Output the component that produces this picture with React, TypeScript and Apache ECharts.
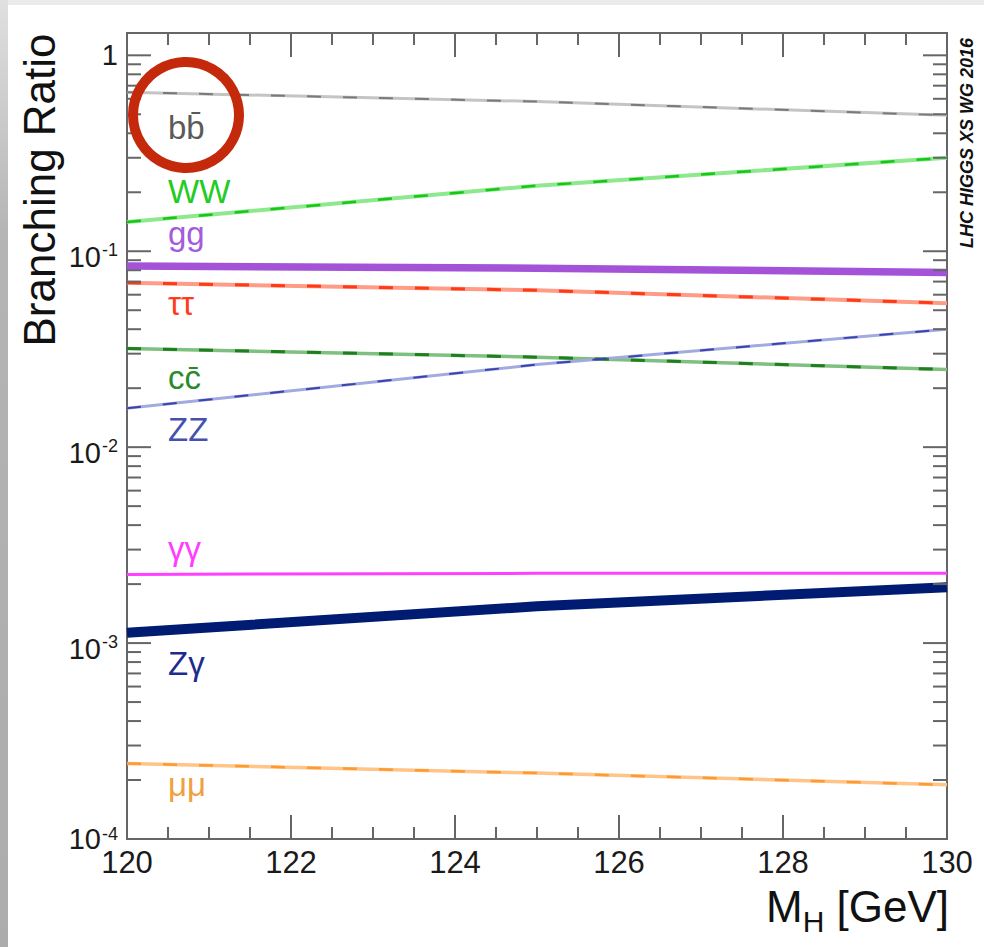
import React, { useEffect, useRef } from "react";
import * as echarts from "echarts";

// Higgs boson branching ratios versus mass (GeV), log scale
const massGeV = [120, 125, 130];
const brBB = [0.648, 0.581, 0.494];
const brWW = [0.141, 0.216, 0.3];
const brGG = [0.084, 0.082, 0.0778];
const brTauTau = [0.069, 0.0632, 0.0543];
const brCC = [0.0319, 0.0288, 0.0249];
const brZZ = [0.0158, 0.0264, 0.04];
const brGamGam = [0.00224, 0.00227, 0.00227];
const brZGam = [0.00113, 0.00154, 0.00193];
const brMuMu = [0.000243, 0.000217, 0.000189];

const channelNames = ["bb\u0304", "WW", "gg", "\u03c4\u03c4", "cc\u0304", "ZZ", "\u03b3\u03b3", "Z\u03b3", "\u03bc\u03bc"];
const channelValues = [brBB, brWW, brGG, brTauTau, brCC, brZZ, brGamGam, brZGam, brMuMu];

const xMin = 120;
const xMax = 130;
const yMin = 1e-4;
const yMax = 1.3;
const yDecades = [-4, -3, -2, -1, 0];
const yMinorMultipliers = [2, 3, 4, 5, 6, 7, 8, 9];

const xTitle = ["M", "H", " [GeV]"];
const yTitle = "Branching Ratio";
const stamp = "LHC HIGGS XS WG 2016";

const FONT = '"Liberation Sans", Arial, Helvetica, sans-serif';

// per-channel drawing style: band colour/width, central dash colour/width, label colour, label centre y
const channelStyles = [
  { band: "#c4c4c4", width: 3, dash: "#7a7a7a", dashW: 2, text: "#5a5a5a", ly: 127 },
  { band: "#8ee88e", width: 4, dash: "#16c816", dashW: 2.5, text: "#22cc22", ly: 191 },
  { band: "#a452d8", width: 7.5, dash: null, dashW: 0, text: "#a45bdc", ly: 233 },
  { band: "#ff9c88", width: 4, dash: "#ff3a14", dashW: 3, text: "#ff3b1e", ly: 303 },
  { band: "#7fbf7f", width: 3.5, dash: "#1f7f1f", dashW: 3, text: "#2a8a2a", ly: 377 },
  { band: "#a3aae0", width: 3, dash: "#3a44b0", dashW: 2, text: "#4650b0", ly: 429 },
  { band: "#ff40ff", width: 3, dash: null, dashW: 0, text: "#ff3cff", ly: 548 },
  { band: "#001c72", width: 10, dash: null, dashW: 0, text: "#1d2b8c", ly: 663 },
  { band: "#ffc488", width: 3.5, dash: "#ff9a30", dashW: 2.5, text: "#f0a040", ly: 784 },
];

function buildYTicks(): number[][] {
  const out: number[][] = [];
  for (const d of yDecades) {
    const base = Math.pow(10, d);
    if (base >= yMin && base <= yMax) out.push([xMin, base, 1]);
    for (const m of yMinorMultipliers) {
      const v = m * base;
      if (v > yMin && v <= yMax) out.push([xMin, v, 0]);
    }
  }
  return out;
}

export default function App() {
  const ref = useRef<HTMLDivElement>(null);

  useEffect(() => {
    if (!ref.current) return;
    const chart = echarts.init(ref.current, null, { renderer: "svg" });

    const tickColor = "#666";
    const xAxisCommon = {
      type: "value" as const,
      min: xMin,
      max: xMax,
      interval: 2,
      axisLine: { show: false },
      axisTick: { show: true, inside: true, length: 24, lineStyle: { color: tickColor, width: 2 } },
      minorTick: { show: true, splitNumber: 4, length: 12, lineStyle: { color: tickColor, width: 2 } },
      splitLine: { show: false },
      minorSplitLine: { show: false },
    };

    const lineSeries: any[] = [];
    channelValues.forEach((vals, i) => {
      const st = channelStyles[i];
      const data = massGeV.map((m, j) => [m, vals[j]]);
      lineSeries.push({
        type: "line",
        name: channelNames[i],
        data,
        showSymbol: false,
        symbol: "none",
        silent: true,
        lineStyle: { color: st.band, width: st.width },
        z: 3,
      });
      if (st.dash) {
        lineSeries.push({
          type: "line",
          name: channelNames[i] + " centre",
          data,
          showSymbol: false,
          symbol: "none",
          silent: true,
          lineStyle: { color: st.dash, width: st.dashW, type: [14, 22] },
          z: 4,
        });
      }
    });

    const tickSeries = {
      type: "custom",
      silent: true,
      clip: false,
      z: 6,
      encode: { x: 0, y: 1 },
      data: buildYTicks(),
      renderItem: (_params: any, api: any) => {
        const v = api.value(1);
        const major = api.value(2) === 1;
        const l = api.coord([xMin, v]);
        const r = api.coord([xMax, v]);
        const len = major ? 24 : 14;
        const st = { stroke: tickColor, lineWidth: 2 };
        return {
          type: "group",
          children: [
            { type: "line", shape: { x1: l[0], y1: l[1], x2: l[0] + len, y2: l[1] }, style: st },
            { type: "line", shape: { x1: r[0] - len, y1: r[1], x2: r[0], y2: r[1] }, style: st },
          ],
        };
      },
    };

    const labelGraphics = channelNames.map((name, i) => ({
      type: "text",
      x: 168,
      y: channelStyles[i].ly,
      z: 50,
      silent: true,
      style: {
        text: name,
        fill: channelStyles[i].text,
        fontSize: 33,
        fontFamily: FONT,
        align: "left",
        verticalAlign: "middle",
      },
    }));

    chart.setOption({
      animation: false,
      backgroundColor: "#ffffff",
      grid: {
        left: 127,
        top: 33,
        right: 37,
        bottom: 108,
        show: true,
        borderColor: "#666",
        borderWidth: 2,
        backgroundColor: "transparent",
        containLabel: false,
      },
      xAxis: [
        {
          ...xAxisCommon,
          position: "bottom",
          axisLabel: { show: true, fontSize: 31, color: "#1a1a1a", fontFamily: FONT, margin: 8 },
        },
        {
          ...xAxisCommon,
          position: "top",
          axisLabel: { show: false },
        },
      ],
      yAxis: {
        type: "log",
        logBase: 10,
        min: yMin,
        max: yMax,
        axisLine: { show: false },
        axisTick: { show: false },
        minorTick: { show: false },
        splitLine: { show: false },
        axisLabel: {
          show: true,
          margin: 9,
          color: "#1a1a1a",
          fontFamily: FONT,
          formatter: (v: number) => {
            const e = Math.round(Math.log10(v));
            if (Math.abs(Math.log10(v) - e) > 1e-6) return "";
            if (e === 0) return "{one|1}";
            if (e === -4) return "{b0|10}{s0|" + e + "}";
            return "{b|10}{s|" + e + "}";
          },
          rich: {
            one: { fontSize: 29, lineHeight: 29, fontFamily: FONT, color: "#1a1a1a" },
            b: { fontSize: 29, lineHeight: 29, fontFamily: FONT, color: "#1a1a1a", padding: [12, 0, 0, 0] },
            s: { fontSize: 18, lineHeight: 18, fontFamily: FONT, color: "#1a1a1a", verticalAlign: "top", padding: [4, 0, 0, 1] },
            b0: { fontSize: 29, lineHeight: 29, fontFamily: FONT, color: "#1a1a1a" },
            s0: { fontSize: 18, lineHeight: 18, fontFamily: FONT, color: "#1a1a1a", verticalAlign: "top", padding: [0, 0, 0, 1] },
          },
        },
      },
      series: [...lineSeries, tickSeries],
      graphic: [
        // soft page edge shading
        {
          type: "rect",
          shape: { x: 0, y: 0, width: 984, height: 5 },
          style: { fill: "#ebebeb" },
          silent: true,
          z: 0,
        },
        {
          type: "rect",
          shape: { x: 0, y: 0, width: 8, height: 947 },
          style: {
            fill: new echarts.graphic.LinearGradient(0, 0, 0, 1, [
              { offset: 0, color: "#e0e0e0" },
              { offset: 0.25, color: "#b4b4b4" },
              { offset: 1, color: "#acacac" },
            ]),
          },
          silent: true,
          z: 0,
        },
        ...labelGraphics,
        {
          type: "circle",
          shape: { cx: 186, cy: 115, r: 53 },
          style: { fill: "none", stroke: "#c4290c", lineWidth: 10 },
          silent: true,
          z: 60,
        },
        {
          type: "text",
          x: 39,
          y: 190,
          rotation: Math.PI / 2,
          silent: true,
          z: 50,
          style: {
            text: yTitle,
            fill: "#111",
            fontSize: 44,
            fontFamily: FONT,
            align: "center",
            verticalAlign: "middle",
          },
        },
        {
          type: "text",
          x: 967,
          y: 143,
          rotation: Math.PI / 2,
          silent: true,
          z: 50,
          style: {
            text: stamp,
            fill: "#111",
            fontSize: 18,
            fontWeight: "bold",
            fontStyle: "italic",
            fontFamily: FONT,
            align: "center",
            verticalAlign: "middle",
          },
        },
        {
          type: "text",
          x: 949,
          y: 906,
          silent: true,
          z: 50,
          style: {
            text: "{m|" + xTitle[0] + "}{h|" + xTitle[1] + "}{t|" + xTitle[2] + "}",
            align: "right",
            verticalAlign: "middle",
            rich: {
              m: { fontSize: 44, lineHeight: 44, fontFamily: FONT, fill: "#111", color: "#111" },
              h: { fontSize: 30, lineHeight: 30, fontFamily: FONT, fill: "#111", color: "#111", verticalAlign: "top", padding: [22, 0, 0, 0] },
              t: { fontSize: 44, lineHeight: 44, fontFamily: FONT, fill: "#111", color: "#111" },
            },
          },
        },
      ],
    });

    return () => chart.dispose();
  }, []);

  return (
    <div
      ref={ref}
      style={{ position: "fixed", left: 0, top: 0, width: 984, height: 947, background: "#fff" }}
    />
  );
}
